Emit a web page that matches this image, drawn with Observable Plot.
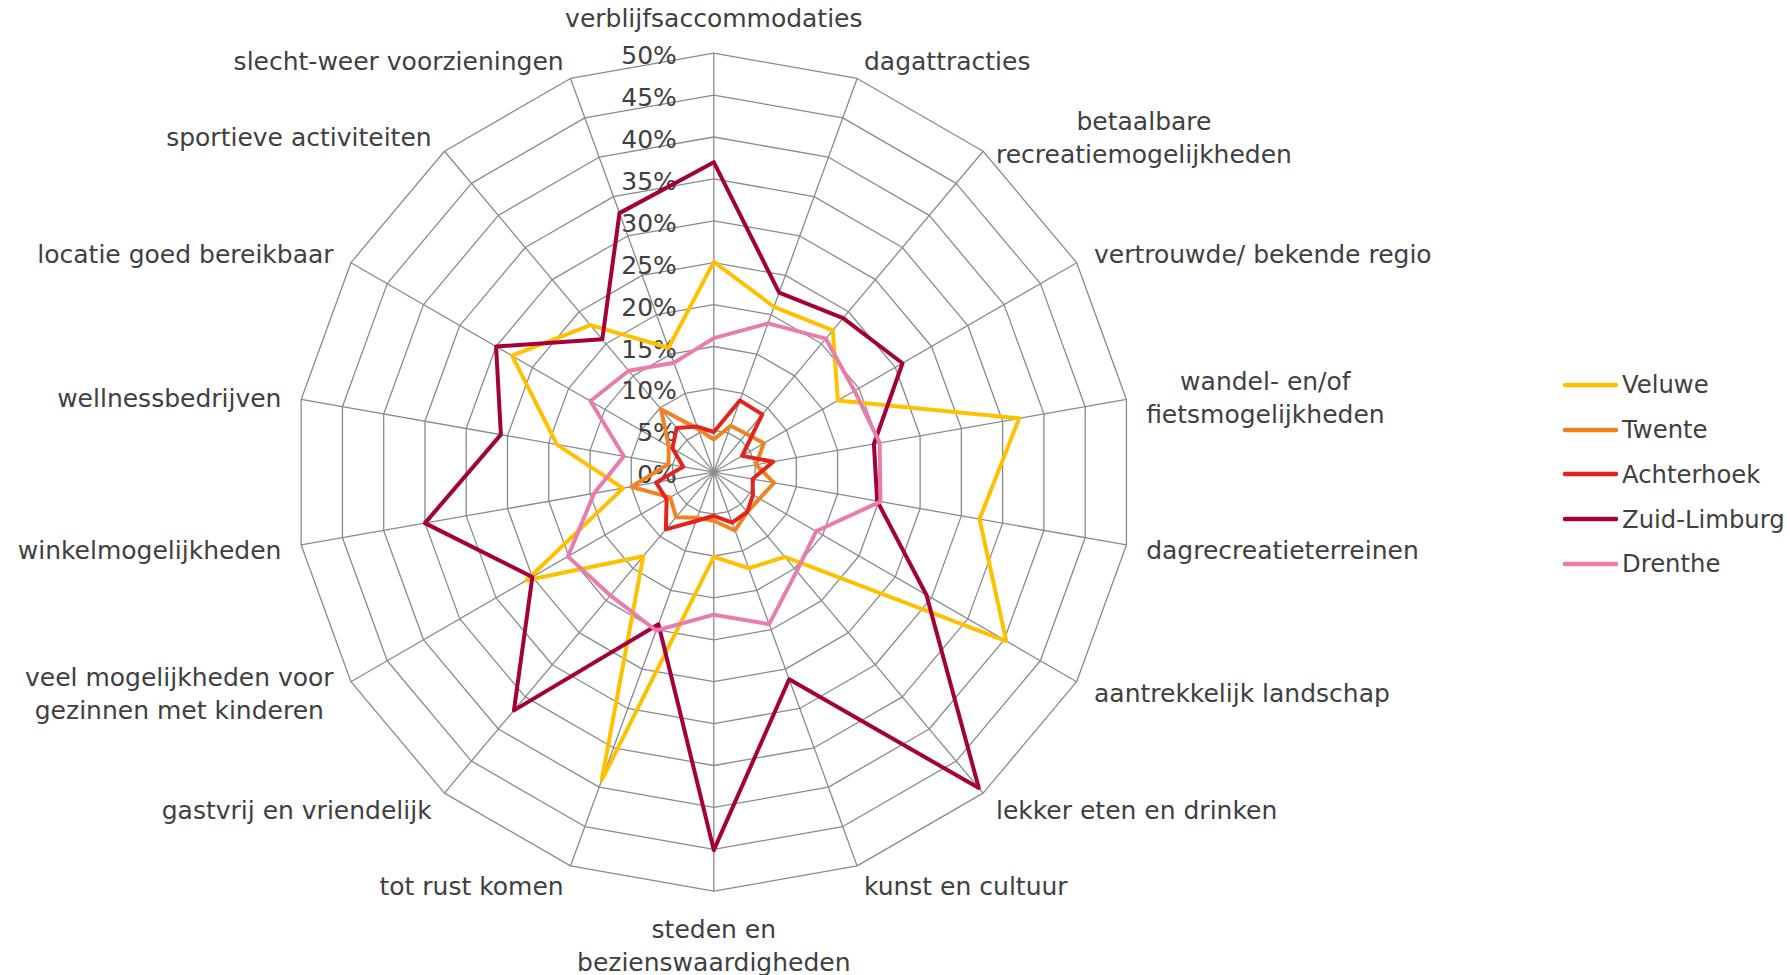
<!DOCTYPE html>
<html><head><meta charset="utf-8">
<script src="https://cdn.jsdelivr.net/npm/d3@7"></script>
<script src="https://cdn.jsdelivr.net/npm/@observablehq/plot@0.6"></script>
<style>
body{margin:0;background:#fff;font-family:"DejaVu Sans",Verdana,sans-serif;}
#wrap{position:relative;width:1790px;height:975px;}
#legend{position:absolute;left:1560px;top:362.6px;}
.row{height:44.75px;display:flex;align-items:center;font-size:24.3px;color:#404040;white-space:nowrap;}
.row svg{margin-right:2px;display:block}
</style></head><body><div id="wrap"><div id="chart"></div><div id="legend"></div></div>
<script>
const categories = [
  "verblijfsaccommodaties",
  "dagattracties",
  "betaalbare\nrecreatiemogelijkheden",
  "vertrouwde/ bekende regio",
  "wandel- en/of\nfietsmogelijkheden",
  "dagrecreatieterreinen",
  "aantrekkelijk landschap",
  "lekker eten en drinken",
  "kunst en cultuur",
  "steden en\nbezienswaardigheden",
  "tot rust komen",
  "gastvrij en vriendelijk",
  "veel mogelijkheden voor\ngezinnen met kinderen",
  "winkelmogelijkheden",
  "wellnessbedrijven",
  "locatie goed bereikbaar",
  "sportieve activiteiten",
  "slecht-weer voorzieningen"
];
const seriesNames = ["Veluwe", "Twente", "Achterhoek", "Zuid-Limburg", "Drenthe"];
const veluwe      = [25.1, 21.0, 22.1, 17.1, 37.0, 32.2, 40.3, 13.2, 12.2, 10.1, 39.1, 13.1, 25.8, 11.0, 19.0, 27.8, 22.9, 15.8];
const twente      = [3.9, 5.9, 6.0, 6.9, 5.1, 7.3, 6.3, 6.2, 7.4, 5.8, 5.8, 7.0, 6.0, 10.0, 5.5, 6.2, 9.8, 5.5];
const achterhoek  = [4.8, 9.1, 9.0, 3.9, 7.2, 4.7, 5.4, 6.2, 6.4, 5.2, 6.2, 8.9, 6.5, 7.0, 3.7, 5.7, 6.9, 5.8];
const zuidLimburg = [37.0, 22.8, 24.0, 26.0, 19.4, 19.8, 29.3, 49.2, 26.3, 45.1, 19.3, 37.1, 25.0, 35.0, 25.8, 30.0, 20.7, 32.9];
const drenthe     = [16.0, 18.9, 20.8, 19.4, 20.1, 20.2, 14.1, 15.4, 19.3, 17.0, 20.1, 19.2, 20.1, 14.5, 10.9, 17.0, 15.8, 13.9];
const tickValues  = [0, 5, 10, 15, 20, 25, 30, 35, 40, 45, 50];
const tickLabels  = ["0%", "5%", "10%", "15%", "20%", "25%", "30%", "35%", "40%", "45%", "50%"];

// styles
const seriesColors = ["#FFC000", "#F08222", "#E3241E", "#A4003A", "#E87DAB"];
const gridColor = "#8a8a8a";
const textColor = "#404040";
const fontSize = 25;
const lineHeight = 1.32;
const pad = 20;

const seriesValues = [veluwe, twente, achterhoek, zuidLimburg, drenthe];
const maxValue = d3.max(tickValues);
const n = categories.length;
const angle = k => k * 2 * Math.PI / n;
const px = (v, k) => v * Math.sin(angle(k));
const py = (v, k) => v * Math.cos(angle(k));

const rows = seriesNames.flatMap((s, i) => seriesValues[i].map((v, k) => ({series: s, k, v, x: px(v, k), y: py(v, k)})));
const ringPts = tickValues.filter(t => t > 0).flatMap(t => categories.map((c, k) => ({ring: t, x: px(t, k), y: py(t, k)})));
const spokes = categories.map((c, k) => ({x2: px(maxValue, k), y2: py(maxValue, k)}));

const ctx = document.createElement("canvas").getContext("2d");
ctx.font = `${fontSize}px "DejaVu Sans"`;

const labelMarks = categories.map((c, k) => {
  const a = angle(k), s = Math.sin(a), co = Math.cos(a);
  const lines = c.split("\n");
  const w = Math.max(...lines.map(l => ctx.measureText(l).width));
  const h = lines.length * fontSize * lineHeight;
  const side = Math.abs(s) > 0.1 ? Math.sign(s) : 0;
  const dx = pad * s + side * w / 2;
  const dy = -pad * co - (Math.abs(co) > 0.99 ? Math.sign(co) * h / 2 : 0);
  return Plot.text([c], {
    x: () => px(maxValue, k), y: () => py(maxValue, k), text: d => d,
    textAnchor: "middle", lineAnchor: "middle", lineHeight, dx, dy,
    fontSize, fill: textColor, fontFamily: "DejaVu Sans"
  });
});

const cx = 713.3, cy = 471.7, R = 419;
const chart = Plot.plot({
  width: 1790, height: 975, margin: 0,
  style: {fontFamily: "DejaVu Sans", background: "#fff", overflow: "visible"},
  x: {domain: [-maxValue, maxValue], range: [cx - R, cx + R], axis: null},
  y: {domain: [-maxValue, maxValue], range: [cy + R, cy - R], axis: null},
  color: {domain: seriesNames, range: seriesColors},
  marks: [
    Plot.link(spokes, {x1: 0, y1: 0, x2: "x2", y2: "y2", stroke: gridColor, strokeWidth: 1.3}),
    Plot.line(ringPts, {x: "x", y: "y", z: "ring", curve: "linear-closed", stroke: gridColor, strokeWidth: 1.3}),
    Plot.text(tickValues, {x: 0, y: d => d, text: (d, i) => tickLabels[i], textAnchor: "end", lineAnchor: "middle", dx: -37, dy: 3, fontSize, fill: textColor, fontFamily: "DejaVu Sans"}),
    ...labelMarks,
    Plot.line(rows, {x: "x", y: "y", z: "series", stroke: "series", curve: "linear-closed", strokeWidth: 4, strokeLinejoin: "round"})
  ]
});
document.getElementById("chart").appendChild(chart);

const legend = document.getElementById("legend");
seriesNames.forEach((s, i) => {
  const row = document.createElement("div");
  row.className = "row";
  row.innerHTML = `<svg width="60" height="10"><line x1="5" y1="5" x2="56" y2="5" stroke="${seriesColors[i]}" stroke-width="4.5" stroke-linecap="round"/></svg><span>${s}</span>`;
  legend.appendChild(row);
});
</script></body></html>
